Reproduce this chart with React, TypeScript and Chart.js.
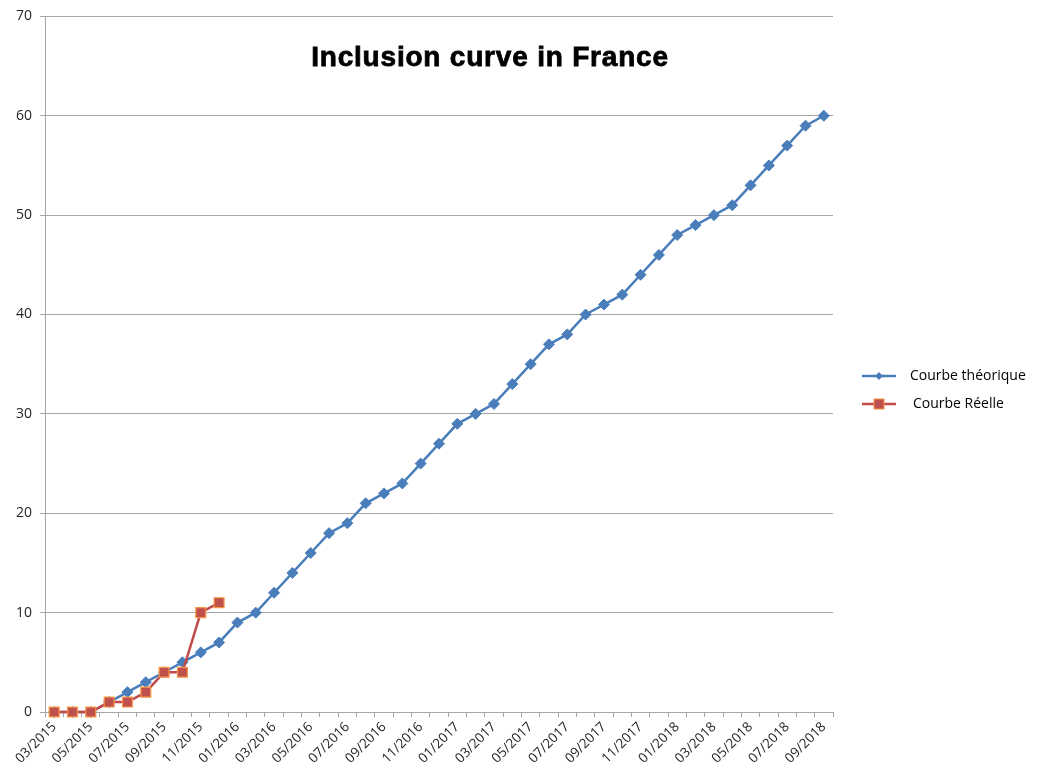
import React, { useEffect, useRef } from "react";
import { Chart, registerables } from "chart.js";

Chart.register(...registerables);

const titleText = "Inclusion curve in France";

const months = [
  "03/2015", "04/2015", "05/2015", "06/2015", "07/2015", "08/2015", "09/2015", "10/2015", "11/2015", "12/2015",
  "01/2016", "02/2016", "03/2016", "04/2016", "05/2016", "06/2016", "07/2016", "08/2016", "09/2016", "10/2016", "11/2016", "12/2016",
  "01/2017", "02/2017", "03/2017", "04/2017", "05/2017", "06/2017", "07/2017", "08/2017", "09/2017", "10/2017", "11/2017", "12/2017",
  "01/2018", "02/2018", "03/2018", "04/2018", "05/2018", "06/2018", "07/2018", "08/2018", "09/2018",
];

const theoreticalLabel = "Courbe théorique";
const theoretical = [
  0, 0, 0, 1, 2, 3, 4, 5, 6, 7,
  9, 10, 12, 14, 16, 18, 19, 21, 22, 23, 25, 27,
  29, 30, 31, 33, 35, 37, 38, 40, 41, 42, 44, 46,
  48, 49, 50, 51, 53, 55, 57, 59, 60,
];

const realLabel = "Courbe Réelle";
const real = [0, 0, 0, 1, 1, 2, 4, 4, 10, 11];

const yTicks = [0, 10, 20, 30, 40, 50, 60, 70];

const BLUE = "#4a7ebb";
const RED = "#be4b48";
const RED_FILL = "#c0504d";
const RED_BORDER = "#f79646";
const GRID = "#a6a6a6";
const TEXT = "#262626";

const titlePlugin = {
  id: "overlayTitle",
  afterDraw(chart: any) {
    const ctx = chart.ctx;
    ctx.save();
    ctx.font = 'bold 28px "Liberation Sans", Arial, sans-serif';
    (ctx as any).letterSpacing = "0.8px";
    ctx.fillStyle = "#000";
    ctx.strokeStyle = "#000";
    ctx.lineWidth = 0.8;
    ctx.textAlign = "center";
    ctx.textBaseline = "middle";
    ctx.fillText(titleText, 490, 58);
    ctx.strokeText(titleText, 490, 58);
    ctx.restore();
  },
};

const legendPlugin = {
  id: "sideLegend",
  afterDraw(chart: any) {
    const ctx = chart.ctx;
    const items = [
      { ds: chart.data.datasets[0], y: 376, textX: 910 },
      { ds: chart.data.datasets[1], y: 404, textX: 913 },
    ];
    ctx.save();
    items.forEach((it, i) => {
      const ds = it.ds;
      ctx.strokeStyle = ds.borderColor;
      ctx.lineWidth = 2.5;
      ctx.beginPath();
      ctx.moveTo(862, it.y);
      ctx.lineTo(896, it.y);
      ctx.stroke();
      ctx.fillStyle = ds.pointBackgroundColor;
      ctx.strokeStyle = ds.pointBorderColor;
      ctx.lineWidth = 1;
      if (i === 0) {
        ctx.beginPath();
        ctx.moveTo(879, it.y - 4);
        ctx.lineTo(883, it.y);
        ctx.lineTo(879, it.y + 4);
        ctx.lineTo(875, it.y);
        ctx.closePath();
        ctx.fill();
      } else {
        ctx.fillRect(874, it.y - 5, 10, 10);
        ctx.strokeRect(874, it.y - 5, 10, 10);
      }
      ctx.fillStyle = "#000";
      ctx.font = '14px "Open Sans", sans-serif';
      ctx.textAlign = "left";
      ctx.textBaseline = "middle";
      ctx.fillText(ds.label, it.textX, it.y);
    });
    ctx.restore();
  },
};

export default function App() {
  const ref = useRef<HTMLCanvasElement | null>(null);

  useEffect(() => {
    document.body.style.margin = "0";
    if (!ref.current) return;
    const chart = new Chart(ref.current, {
      type: "line",
      data: {
        labels: months,
        datasets: [
          {
            label: theoreticalLabel,
            data: theoretical,
            borderColor: BLUE,
            backgroundColor: BLUE,
            pointBackgroundColor: BLUE,
            pointBorderColor: BLUE,
            pointStyle: "rectRot",
            pointRadius: 5.5,
            pointBorderWidth: 1,
            borderWidth: 2.5,
            tension: 0,
            clip: false,
            order: 1,
          },
          {
            label: realLabel,
            data: real,
            borderColor: RED,
            backgroundColor: RED_FILL,
            pointBackgroundColor: RED_FILL,
            pointBorderColor: RED_BORDER,
            pointStyle: "rect",
            pointRadius: 7,
            pointBorderWidth: 1.2,
            borderWidth: 2.5,
            tension: 0,
            clip: false,
            order: 0,
          },
        ],
      },
      options: {
        animation: false,
        responsive: true,
        maintainAspectRatio: false,
        layout: { padding: { top: 15, right: 210, left: 0, bottom: 0 } },
        plugins: {
          legend: { display: false },
          title: { display: false },
          tooltip: { enabled: false },
        },
        scales: {
          x: {
            offset: true,
            afterFit(scale: any) {
              scale.height = 62;
            },
            grid: {
              offset: true,
              drawOnChartArea: false,
              drawTicks: true,
              tickLength: 5,
              color: GRID,
            },
            border: { color: GRID, width: 1 },
            ticks: {
              autoSkip: false,
              minRotation: 45,
              maxRotation: 45,
              padding: 2,
              color: TEXT,
              font: { family: '"Open Sans", sans-serif', size: 13.5 },
              callback: (_v: any, i: number) => (i % 2 === 0 ? months[i] : ""),
            },
          },
          y: {
            min: 0,
            max: 70,
            afterFit(scale: any) {
              scale.width = 45;
            },
            afterBuildTicks(scale: any) {
              scale.ticks = yTicks.map((v) => ({ value: v }));
            },
            grid: {
              color: GRID,
              tickLength: 5,
              lineWidth: 1,
            },
            border: { color: GRID, width: 1 },
            ticks: {
              padding: 8,
              color: TEXT,
              font: { family: '"Open Sans", sans-serif', size: 14 },
            },
          },
        },
      },
      plugins: [titlePlugin, legendPlugin],
    });
    return () => chart.destroy();
  }, []);

  return (
    <div style={{ width: 1043, height: 774, position: "relative", background: "#fff" }}>
      <canvas ref={ref} />
    </div>
  );
}
